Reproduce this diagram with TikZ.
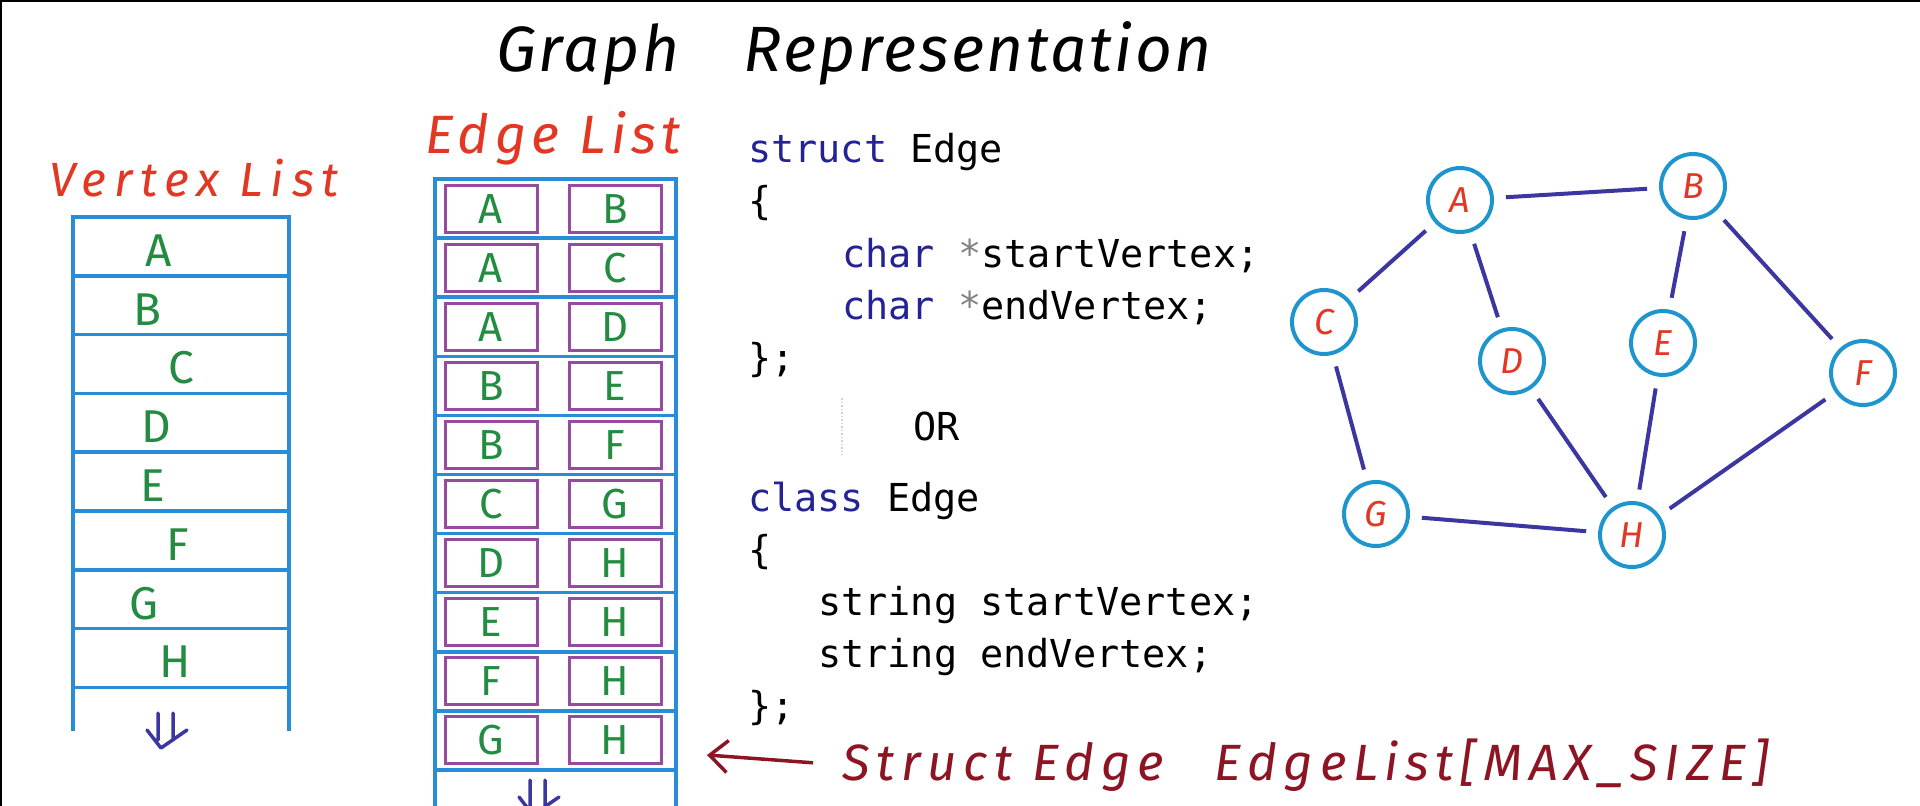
\documentclass[tikz,border=0pt]{standalone}
\usepackage{fontspec}
\setmainfont{Fira Sans}
\newfontfamily\handfont{Fira Sans}
\newfontfamily\codefont{DejaVu Sans Mono}
\usetikzlibrary{arrows.meta,positioning}
\definecolor{tblblue}{RGB}{40,140,215}
\definecolor{boxpurple}{RGB}{150,75,160}
\definecolor{lettergreen}{RGB}{35,140,65}
\definecolor{titlered}{RGB}{225,55,35}
\definecolor{kwblue}{RGB}{35,35,150}
\definecolor{edgeindigo}{RGB}{60,55,160}
\definecolor{nodeblue}{RGB}{30,150,205}
\definecolor{notemaroon}{RGB}{140,20,35}
\definecolor{stargray}{RGB}{130,130,130}
\newcommand\kwd[1]{\textcolor{kwblue}{#1}}
\newcommand\ptr{\textcolor{stargray}{*}}
\tikzset{
  hand/.style={font=\handfont\fontsize{#1}{#1}\selectfont},
  handit/.style={font=\handfont\itshape\fontsize{#1}{#1}\selectfont},
  vrow/.style={draw=tblblue,line width=3.5,minimum width=216,minimum height=58.8,inner sep=0,outer sep=0},
  erow/.style={draw=tblblue,line width=3.5,minimum width=241,minimum height=59.1,inner sep=0,outer sep=0},
  ebox/.style={draw=boxpurple,line width=3,minimum width=92,minimum height=47,inner sep=0,text=lettergreen,hand=42},
  vletter/.style={text=lettergreen,hand=46,inner sep=0},
  gnode/.style={circle,draw=nodeblue,line width=4,minimum size=64,inner sep=0,fill=white,text=titlered,handit=36},
  gedge/.style={draw=edgeindigo,line width=4,shorten >=12pt,shorten <=12pt},
  codeline/.style={anchor=base west,inner sep=0,font=\codefont\fontsize{38.5}{46}\selectfont},
  dnarr/.pic={\draw[line width=3.5,edgeindigo,line cap=round,line join=round]
    (-7,-17) -- (-7,10) (8,-17) -- (8,8) (-18,0) -- (-4,18) -- (22,0);}
}
\begin{document}
\begin{tikzpicture}[x=1pt,y=-1pt]
  \useasboundingbox (0,0) rectangle (1920,806);
  \draw[line width=2] (0,1) -- (1920,1) (1,0) -- (1,806);

  \node[handit=64,anchor=base] (title) at (854,71) {\addfontfeature{LetterSpace=4}Graph\quad Representation};

  % vertex list
  \node[handit=48,anchor=base,text=titlered] (vtitle) at (194,196) {\addfontfeature{LetterSpace=16}Vertex List};
  \foreach \i/\l/\dx in {0/A/-22,1/B/-34,2/C/0,3/D/-25,4/E/-28,5/F/-3,6/G/-37,7/H/-6} {
    \node[vrow] (v\l) at (181,{217+58.8*(\i+0.5)}) {};
    \node[vletter] at ([xshift=\dx pt,yshift=-4pt]v\l.center) {\l};
  }
  \draw[tblblue,line width=3.5] (vH.south west) -- ++(0,44) (vH.south east) -- ++(0,44);
  \pic at (165,730) {dnarr};

  % edge list
  \node[handit=54,anchor=base,text=titlered] (etitle) at (553,153) {\addfontfeature{LetterSpace=10}Edge List};
  \foreach \i/\s/\t in {0/A/B,1/A/C,2/A/D,3/B/E,4/B/F,5/C/G,6/D/H,7/E/H,8/F/H,9/G/H} {
    \node[erow] (e\i) at (555.5,{179+59.1*(\i+0.5)}) {};
    \node[ebox] (es\i) at ([xshift=-64.5pt]e\i.center) {\s};
    \node[ebox] (et\i) at ([xshift=59.5pt]e\i.center) {\t};
  }
  \draw[tblblue,line width=3.5] (e9.south west) -- ++(0,40) (e9.south east) -- ++(0,40);
  \pic at (537,797) {dnarr};

  % code
  \node[codeline] (s1) at (748,162) {\kwd{struct} Edge};
  \node[codeline] (s2) at (748,214) {\{};
  \node[codeline] (s3) at (842,267) {\kwd{char} \ptr startVertex;};
  \node[codeline] (s4) at (842,319) {\kwd{char} \ptr endVertex;};
  \node[codeline] (s5) at (748,371) {\};};
  \draw[gray!35,dotted,line width=1.5] (842,398) -- (842,455);
  \node[codeline] (or) at (913,440) {OR};
  \node[codeline] (c1) at (748,511) {\kwd{class} Edge};
  \node[codeline] (c2) at (748,563) {\{};
  \node[codeline] (c3) at (818,615) {string startVertex;};
  \node[codeline] (c4) at (818,667) {string endVertex;};
  \node[codeline] (c5) at (748,719) {\};};

  \node[handit=51,anchor=base west,text=notemaroon] (maxsz) at (839,780) {\addfontfeature{LetterSpace=13}Struct Edge\quad EdgeList[MAX\_SIZE]};
  \coordinate (tip) at (707,755);
  \draw[notemaroon,line width=3.5,shorten <=26pt,-{Straight Barb[length=18pt,width=32pt]}] (maxsz.west) -- (tip);

  % graph
  \node[gnode] (A) at (1460,200) {A};
  \node[gnode] (B) at (1693,186) {B};
  \node[gnode] (C) at (1324,322) {C};
  \node[gnode] (D) at (1512,361) {D};
  \node[gnode] (E) at (1663,343) {E};
  \node[gnode] (F) at (1863,373) {F};
  \node[gnode] (G) at (1376,514) {G};
  \node[gnode] (H) at (1632,535) {H};
  \draw[gedge] (A) -- (B);
  \draw[gedge] (A) -- (C);
  \draw[gedge] (A) -- (D);
  \draw[gedge] (B) -- (E);
  \draw[gedge] (B) -- (F);
  \draw[gedge] (C) -- (G);
  \draw[gedge] (D) -- (H);
  \draw[gedge] (E) -- (H);
  \draw[gedge] (F) -- (H);
  \draw[gedge] (G) -- (H);
\end{tikzpicture}
\end{document}
